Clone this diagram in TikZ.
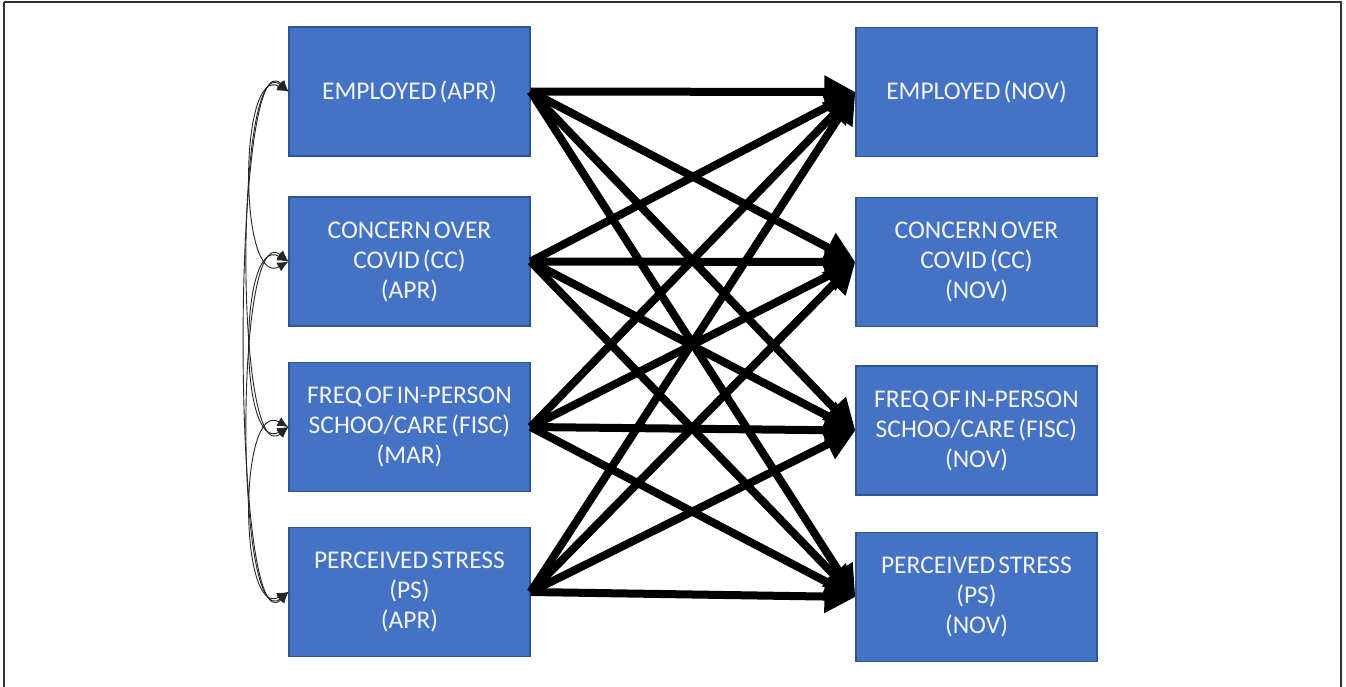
\documentclass[tikz,border=0pt]{standalone}
\usepackage{fontspec}
\setmainfont{Carlito}[WordSpace=0.55]
\usetikzlibrary{arrows.meta}
\definecolor{boxblue}{HTML}{4472C4}
\definecolor{boxedge}{HTML}{2F5597}
\definecolor{boxtext}{HTML}{F4F4F4}
\definecolor{framegray}{HTML}{333333}
\tikzset{
  var/.style={draw=boxedge, line width=1.2pt, fill=boxblue, text=boxtext,
    minimum width=241pt, minimum height=129pt, inner sep=0pt,
    align=center, font=\fontsize{25.5}{30}\selectfont},
  path/.style={line width=8pt, -{Triangle[length=31pt,width=31pt]}},
  corr/.style={line width=0.9pt, draw=black!85,
    {Latex[length=11pt,width=10pt]}-{Latex[length=11pt,width=10pt]}}
}
\begin{document}
\begin{tikzpicture}[x=1pt,y=-1pt]
\useasboundingbox (0,0) rectangle (1346,686);
\fill[white] (0,0) rectangle (1346,686);
\draw[framegray, line width=1.6pt] (4,2) -- (1341,2) -- (1341,692) (4,2) -- (4,692);

% time-1 measures
\node[var] (L1) at (409.5,91.5) {EMPLOYED (APR)};
\node[var] (L2) at (409.5,261.5) {CONCERN OVER\\COVID (CC)\\(APR)};
\node[var] (L3) at (409.5,427) {FREQ OF IN-PERSON\\SCHOO/CARE (FISC)\\(MAR)};
\node[var] (L4) at (409.5,592) {PERCEIVED STRESS\\(PS)\\(APR)};

% time-2 measures
\node[var] (R1) at (976.5,92) {EMPLOYED (NOV)};
\node[var] (R2) at (976.5,262) {CONCERN OVER\\COVID (CC)\\(NOV)};
\node[var] (R3) at (976.5,430.5) {FREQ OF IN-PERSON\\SCHOO/CARE (FISC)\\(NOV)};
\node[var] (R4) at (976.5,597) {PERCEIVED STRESS\\(PS)\\(NOV)};

% cross-lagged paths
\foreach \i in {1,2,3,4}{
  \foreach \j in {1,2,3,4}{
    \draw[path] (L\i.east) -- (R\j.west);
  }
}

% correlations among time-1 measures
\draw[corr] (L1.west) .. controls ([shift={(-50pt,28pt)}]L1.west) and ([shift={(-50pt,-28pt)}]L2.west) .. (L2.west);
\draw[corr] (L2.west) .. controls ([shift={(-50pt,28pt)}]L2.west) and ([shift={(-50pt,-28pt)}]L3.west) .. (L3.west);
\draw[corr] (L3.west) .. controls ([shift={(-50pt,28pt)}]L3.west) and ([shift={(-50pt,-28pt)}]L4.west) .. (L4.west);
\draw[corr] (L1.west) .. controls ([shift={(-54pt,45pt)}]L1.west) and ([shift={(-54pt,-45pt)}]L3.west) .. (L3.west);
\draw[corr] (L2.west) .. controls ([shift={(-54pt,45pt)}]L2.west) and ([shift={(-54pt,-45pt)}]L4.west) .. (L4.west);
\draw[corr] (L1.west) .. controls ([shift={(-58pt,60pt)}]L1.west) and ([shift={(-58pt,-60pt)}]L4.west) .. (L4.west);
\end{tikzpicture}
\end{document}
